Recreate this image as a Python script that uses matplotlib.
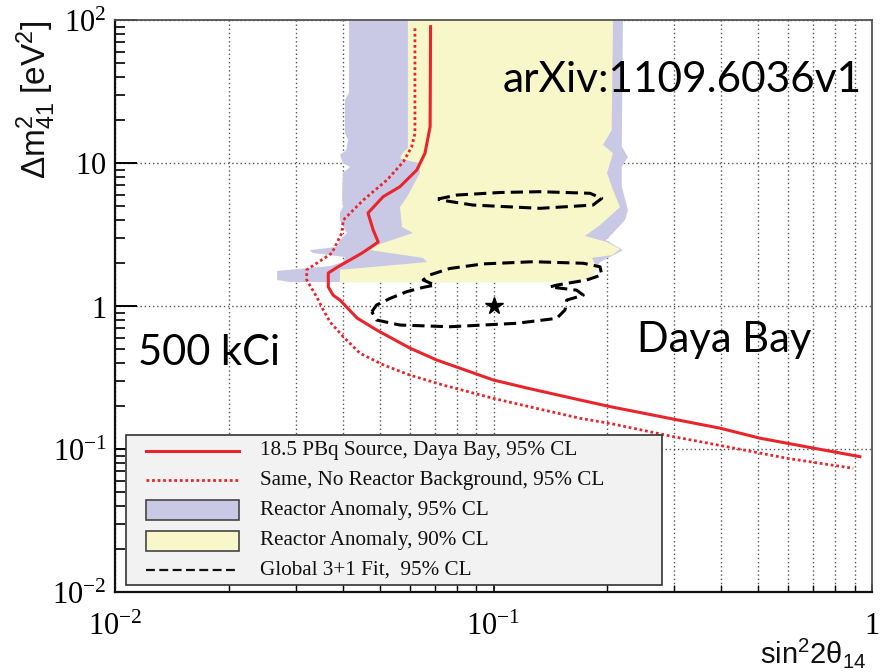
import matplotlib
matplotlib.use('Agg')
import matplotlib.pyplot as plt
import numpy as np
from matplotlib.patches import Rectangle
from matplotlib.lines import Line2D
from matplotlib.ticker import FixedLocator, NullFormatter, LogLocator

plt.rcParams['mathtext.fontset'] = 'custom'
plt.rcParams['mathtext.rm'] = 'Liberation Serif'
plt.rcParams['mathtext.it'] = 'Liberation Serif:italic'
plt.rcParams['mathtext.bf'] = 'Liberation Serif:bold'
plt.rcParams['mathtext.sf'] = 'Liberation Sans'

# ---------------- data ----------------
# 18.5 PBq source, Daya Bay, 95% CL
source_x = [0.0682, 0.0680, 0.0659, 0.0627, 0.0566, 0.0511, 0.0466, 0.0481, 0.0496, 0.0450,
            0.0387, 0.0366, 0.0366, 0.0377, 0.0393, 0.0436, 0.0491, 0.0601, 0.0708, 0.0814,
            0.0998, 0.1225, 0.1695, 0.203, 0.298, 0.396, 0.506, 0.698, 0.929]
source_y = [89.8, 17.9, 11.7, 8.93, 6.83, 5.81, 4.47, 3.40, 2.80, 2.35,
            1.87, 1.70, 1.36, 1.19, 1.10, 0.824, 0.680, 0.508, 0.419, 0.368,
            0.304, 0.267, 0.220, 0.198, 0.162, 0.140, 0.119, 0.1016, 0.0884]

# Same, no reactor background, 95% CL
nobkg_x = [0.0620, 0.0620, 0.0608, 0.0578, 0.0523, 0.0453, 0.0401, 0.0397, 0.0374, 0.0321,
           0.0321, 0.0341, 0.0355, 0.0370, 0.0401, 0.0444, 0.0512, 0.0601, 0.0736, 0.0999,
           0.1354, 0.1693, 0.203, 0.2985, 0.413, 0.596, 0.892]
nobkg_y = [87.5, 16.1, 13.0, 10.2, 7.60, 5.51, 3.99, 3.22, 2.34, 1.79,
           1.52, 1.16, 0.938, 0.773, 0.610, 0.467, 0.387, 0.329, 0.280, 0.226,
           0.1875, 0.164, 0.151, 0.122, 0.1038, 0.0861, 0.0733]

# Reactor anomaly 95% CL region
ra95_x = [0.0415, 0.2198, 0.2182, 0.2266, 0.2182, 0.2182, 0.2266, 0.2225, 0.2069, 0.1982,
          0.2198, 0.2056, 0.1912, 0.1854, 0.1799, 0.1498, 0.0290, 0.0268, 0.0268, 0.0370,
          0.0400, 0.0405, 0.0333, 0.0327, 0.0386, 0.0393, 0.0410, 0.0393, 0.0393, 0.0400,
          0.0398, 0.0400, 0.0418, 0.0400, 0.0393, 0.0408, 0.0413, 0.0405, 0.0405, 0.0415]
ra95_y = [100, 100, 13.0, 11.0, 9.42, 6.83, 4.69, 3.99, 3.24, 2.89,
          2.46, 2.24, 2.03, 1.79, 1.57, 1.47, 1.47, 1.52, 1.76, 1.90,
          2.03, 2.20, 2.35, 2.46, 2.59, 2.89, 3.24, 3.99, 4.47, 4.92,
          5.78, 8.51, 9.38, 10.0, 11.4, 12.3, 14.5, 16.2, 27.6, 30.9]

# Reactor anomaly 90% CL region
ra90_x = [0.0594, 0.2069, 0.2052, 0.1947, 0.2069, 0.1995, 0.2069, 0.2120, 0.2159, 0.1912,
          0.1744, 0.1995, 0.2159, 0.2056, 0.1820, 0.1877, 0.1799, 0.1498, 0.0393, 0.0393,
          0.0444, 0.0543, 0.0667, 0.0651, 0.0472, 0.0492, 0.0613, 0.0573, 0.0566, 0.0591,
          0.0639, 0.0639, 0.0613, 0.0566, 0.0577, 0.0594]
ra90_y = [100, 100, 17.0, 13.4, 11.7, 8.51, 6.48, 5.51, 4.92, 3.68,
          3.09, 2.80, 2.50, 2.27, 2.17, 1.84, 1.57, 1.47, 1.47, 1.79,
          1.84, 1.93, 2.03, 2.17, 2.46, 2.67, 3.24, 3.57, 4.92, 5.78,
          8.51, 10.0, 10.2, 10.8, 11.9, 12.7]

# Global 3+1 fit, 95% CL (two closed contours)
glob_up_x = [0.0713, 0.0801, 0.104, 0.1327, 0.1799, 0.1932, 0.1832, 0.1327, 0.0883, 0.0754, 0.0713]
glob_up_y = [5.60, 5.97, 6.22, 6.30, 6.14, 5.66, 5.08, 4.82, 5.08, 5.42, 5.60]
glob_lo_x = [0.0477, 0.0491, 0.0533, 0.0590, 0.0652, 0.0700, 0.0652, 0.0679, 0.0767, 0.0940,
             0.1274, 0.1727, 0.1912, 0.1932, 0.1763, 0.1469, 0.1410, 0.1659, 0.1727, 0.1561,
             0.1545, 0.1469, 0.1151, 0.0767, 0.0566, 0.0491, 0.0477]
glob_lo_y = [0.912, 1.016, 1.13, 1.26, 1.35, 1.40, 1.52, 1.65, 1.83, 1.97,
             2.04, 1.99, 1.88, 1.65, 1.52, 1.40, 1.36, 1.29, 1.19, 1.10,
             0.938, 0.820, 0.757, 0.716, 0.736, 0.798, 0.912]
best_fit = (0.1, 1.0)

x_ticks = [0.01, 0.1, 1]
x_tick_labels = [r'$10^{-2}$', r'$10^{-1}$', r'$1$']
y_ticks = [0.01, 0.1, 1, 10, 100]
y_tick_labels = [r'$10^{-2}$', r'$10^{-1}$', r'$1$', r'$10$', r'$10^{2}$']

legend_labels = ['18.5 PBq Source, Daya Bay, 95% CL',
                 'Same, No Reactor Background, 95% CL',
                 'Reactor Anomaly, 95% CL',
                 'Reactor Anomaly, 90% CL',
                 'Global 3+1 Fit,  95% CL']

RED = '#e8252b'
PURPLE = '#c9c9e6'
YELLOW = '#f8f7c9'

# ---------------- figure ----------------
W, H = 883, 672
fig = plt.figure(figsize=(W / 100, H / 100), dpi=100)
AX_L, AX_R, AX_T, AX_B = 115, 872, 20, 592
ax = fig.add_axes([AX_L / W, 1 - AX_B / H, (AX_R - AX_L) / W, (AX_B - AX_T) / H])
ax.set_xscale('log')
ax.set_yscale('log')
ax.set_xlim(0.01, 1)
ax.set_ylim(0.01, 100)
ax.set_axisbelow(True)

ax.fill(ra95_x, ra95_y, color=PURPLE, lw=0, zorder=1)
ax.fill(ra90_x, ra90_y, color=YELLOW, lw=0, zorder=2)

ax.plot(nobkg_x, nobkg_y, color=RED, lw=2.0, ls=(0, (1, 1)), zorder=4)
ax.plot(source_x, source_y, color=RED, lw=2.2, zorder=4)
ax.plot(glob_up_x, glob_up_y, color='k', lw=2.2, ls=(0, (4, 2)), zorder=4)
ax.plot(glob_lo_x, glob_lo_y, color='k', lw=2.2, ls=(0, (4, 2)), zorder=4)
ax.plot([best_fit[0]], [best_fit[1]], marker='*', ms=13, color='k', ls='none', zorder=5)

# grid
grid_style = dict(ls=(0, (1, 2)), color='#555555', lw=1.0)
ax.grid(True, which='major', axis='y', **grid_style)
ax.grid(True, which='both', axis='x', **grid_style)

# ticks
ax.xaxis.set_major_locator(FixedLocator(x_ticks))
ax.xaxis.set_minor_locator(LogLocator(base=10, subs=np.arange(2, 10)))
ax.xaxis.set_minor_formatter(NullFormatter())
ax.set_xticklabels(x_tick_labels)
ax.yaxis.set_major_locator(FixedLocator(y_ticks))
ax.yaxis.set_minor_locator(LogLocator(base=10, subs=np.arange(2, 10)))
ax.yaxis.set_minor_formatter(NullFormatter())
ax.set_yticklabels(y_tick_labels)

ax.tick_params(axis='y', which='major', direction='in', length=16, width=1.4,
               left=True, right=False, pad=6, labelsize=22)
ax.tick_params(axis='y', which='minor', direction='in', length=7, width=1.2,
               left=True, right=False)
ax.tick_params(axis='x', which='major', direction='in', length=6, width=1.2,
               bottom=True, top=False, pad=14, labelsize=22)
ax.tick_params(axis='x', which='minor', direction='in', length=5, width=1.0,
               bottom=True, top=False)

for s in ['left', 'bottom']:
    ax.spines[s].set_linewidth(1.6)
    ax.spines[s].set_color('#111111')
for s in ['top', 'right']:
    ax.spines[s].set_linewidth(1.3)
    ax.spines[s].set_color('#555555')

# ---------------- legend (drawn in axes fraction) ----------------
def axx(px):
    return (px - AX_L) / (AX_R - AX_L)

def axy(py):
    return (AX_B - py) / (AX_B - AX_T)

tr = ax.transAxes
ax.add_patch(Rectangle((axx(126), axy(585)), axx(662) - axx(126), axy(435) - axy(585),
                       transform=tr, facecolor='#f2f2f2', edgecolor='#333333', lw=1.2,
                       zorder=10, clip_on=False))
rows = [450.5, 480, 510, 540.5, 570]
hx0, hx1 = 145.5, 239
ax.add_line(Line2D([axx(hx0), axx(hx1)], [axy(rows[0])] * 2, transform=tr, color=RED, lw=2.2, zorder=11))
ax.add_line(Line2D([axx(hx0), axx(hx1)], [axy(rows[1])] * 2, transform=tr, color=RED, lw=2.0,
                   ls=(0, (1, 1)), zorder=11))
for r, c in [(rows[2], PURPLE), (rows[3], YELLOW)]:
    ax.add_patch(Rectangle((axx(hx0), axy(r + 10)), axx(hx1) - axx(hx0), axy(r - 10) - axy(r + 10),
                           transform=tr, facecolor=c, edgecolor='#444444', lw=1.2, zorder=11))
ax.add_line(Line2D([axx(hx0), axx(hx1)], [axy(rows[4])] * 2, transform=tr, color='#111111', lw=1.6,
                   ls=(0, (4, 2)), zorder=11))
for r, lab in zip(rows, legend_labels):
    ax.text(axx(260), axy(r), lab, transform=tr, ha='left', va='center',
            fontsize=15.2, family='Liberation Serif', color='#111111', zorder=12)

# ---------------- annotations ----------------
fig.text(503 / W, 1 - 92 / H, 'arXiv:1109.6036v1', ha='left', va='baseline',
         fontsize=30.5, family='Lato', color='black')
fig.text(138 / W, 1 - 365 / H, '500 kCi', ha='left', va='baseline',
         fontsize=30, family='Lato', color='black')
fig.text(637 / W, 1 - 352 / H, 'Daya Bay', ha='left', va='baseline',
         fontsize=30, family='Lato', color='black')

fig.text(36 / W, 1 - 100 / H, r'$\mathsf{\Delta m^{2}_{41}\ [eV^{2}]}$', rotation=90,
         ha='center', va='center', fontsize=24, color='#111111')
fig.text(866 / W, 1 - 663 / H, r'$\mathsf{sin^{2}2\theta_{14}}$', ha='right', va='baseline',
         fontsize=21, color='#111111')

fig.savefig('out.png', dpi=100)
